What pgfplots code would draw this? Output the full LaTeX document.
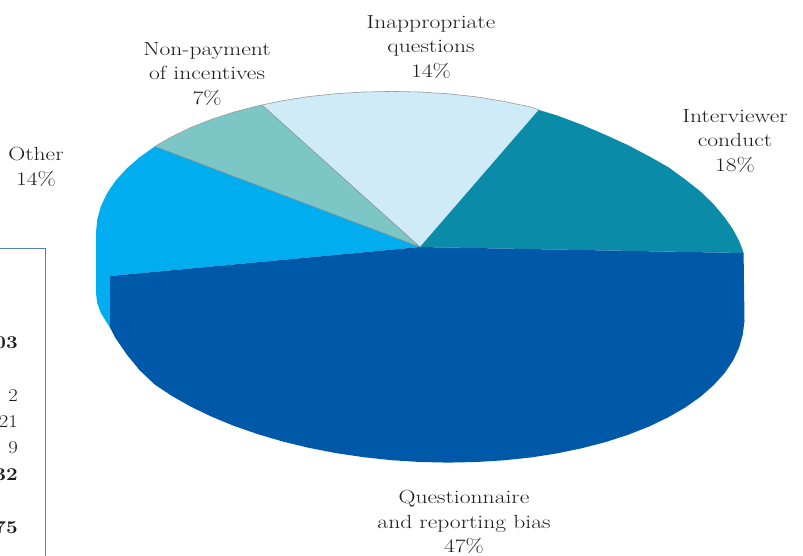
\documentclass[border=0pt]{standalone}
\usepackage{pgfplots}
\pgfplotsset{compat=1.18}
\definecolor{darkBlue}{HTML}{0058A9}
\definecolor{skyBlue}{HTML}{00AEEF}
\definecolor{mint}{HTML}{7CC7C5}
\definecolor{pale}{HTML}{CFEBF8}
\definecolor{teal}{HTML}{0A8CA8}
\definecolor{boxBlue}{HTML}{4F81BD}
\definecolor{textGrey}{HTML}{1C1C1C}
\tikzset{
    lab/.style={text=textGrey, align=center, transform shape, xscale=1.24,
      font=\fontsize{19}{24.5}\selectfont},
    num/.style={text=textGrey, overlay, anchor=base east, inner sep=0pt, transform shape, xscale=1.15,
      font=\fontsize{18}{22}\selectfont},
}

\begin{document}
\begin{tikzpicture}
\begin{axis}[
    hide axis,
    scale only axis,
    width=803pt, height=555pt,
    xmin=0, xmax=803,
    ymin=0, ymax=555,
    y dir=reverse,
    clip=false,
]

% slices, outlines in pixels
% Other 14%
\addplot[fill=skyBlue, draw=none] coordinates {
  (420,247)(154.9,146.4)(139.4,157.4)(126.4,168.8)(115.5,180.8)(107,193.4)(100.9,206.3)(97.2,219.6)(96,233)
  (96,293)(97.2,303)(100.9,313)(107,323)(110.2,328)(110.2,276)
} --cycle;
% Non-payment of incentives 7%
\addplot[fill=mint, draw=none] coordinates {
  (420,247)(261.9,104.9)(258,105.8)(234.2,112)(211.7,119.3)(190.9,127.5)(171.8,136.7)(154.9,146.4)
} --cycle;
% Inappropriate questions 14%
\addplot[fill=pale, draw=none] coordinates {
  (420,247)(538.7,109.9)(530.8,107)(503.9,101.4)(476.2,96.8)(448.3,93.8)(420,92)(391.7,91.4)(363.8,92)
  (336.1,93.7)(309.2,96.5)(283.1,100.6)(261.9,104.9)
} --cycle;
% Interviewer conduct 18%
\addplot[fill=teal, draw=none] coordinates {
  (420,247)(743.6,253)(742.8,250.4)(739.1,240.9)(733,229.4)(724.5,217.2)(713.6,204.2)(700.6,191.6)(685.4,179.6)
  (668.2,167.1)(649.1,156.3)(628.3,145.3)(605.8,135)(582,124.8)(556.9,115.4)(538.7,109.9)
} --cycle;
% Questionnaire and reporting bias 47%
\addplot[fill=darkBlue, draw=none] coordinates {
  (420,247)(743.6,253)(744.5,321)(742.8,334.4)(739.1,347.7)(733,360.6)(724.5,373.2)(713.6,385.2)(700.6,396.6)
  (685.4,407.4)(668.2,417.3)(649.1,426.5)(628.3,434.7)(605.8,442)(582,448.2)(556.9,453.4)(530.8,457.5)
  (503.9,460.3)(476.2,462)(448.3,462.6)(420,462)(391.7,460.2)(363.8,457.2)(336.1,453.1)(309.2,447.9)
  (283.1,441.6)(258,434.2)(234.2,426)(211.7,416.7)(190.9,406.7)(171.8,395.9)(154.6,384.4)(139.4,370)
  (126.4,354)(115.5,338)(110.2,328)(110.2,276)
} --cycle;

% thin grey edges
\addplot[color=black!45, line width=0.6pt] coordinates {(154.9,146.4)(420,247)(261.9,104.9)};
\addplot[color=black!40, line width=0.6pt] coordinates {
  (154.9,146.4)(171.8,136.7)(190.9,127.5)(211.7,119.3)(234.2,112)(258,105.8)(283.1,100.6)(309.2,96.5)
  (336.1,93.7)(363.8,92)(391.7,91.4)(420,92)(448.3,93.8)(476.2,96.8)(503.9,101.4)(530.8,107)(538.7,109.9)
};

% frame of the table cut off at the left
\addplot[color=boxBlue, line width=0.8pt] coordinates {(-2,248)(45,248)(45,557)};

\node[num,font=\fontsize{18}{22}\selectfont\bfseries] at (axis cs:18,348) {03};
\node[num] at (axis cs:18,401) {2};
\node[num] at (axis cs:18,427) {21};
\node[num] at (axis cs:18,453) {9};
\node[num,font=\fontsize{18}{22}\selectfont\bfseries] at (axis cs:18,480) {32};
\node[num,font=\fontsize{18}{22}\selectfont\bfseries] at (axis cs:18,533) {75};

\node[lab] at (axis cs:431,47) {Inappropriate\\questions\\14\%};
\node[lab] at (axis cs:207,74) {Non-payment\\of incentives\\7\%};
\node[lab] at (axis cs:735,141) {Interviewer\\conduct\\18\%};
\node[lab] at (axis cs:36,167) {Other\\14\%};
\node[lab] at (axis cs:464,522) {Questionnaire\\and reporting bias\\47\%};
\end{axis}
\pgfresetboundingbox
\path (current axis.south west) rectangle (current axis.north east);
\end{tikzpicture}
\end{document}
